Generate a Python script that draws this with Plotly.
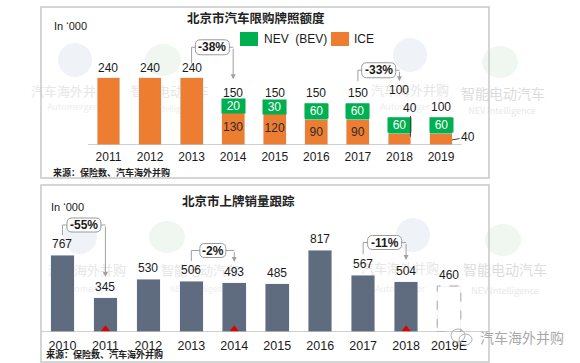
import plotly.graph_objects as go

W, H = 580, 363

# ---------------- data ----------------
quota_years = ["2011", "2012", "2013", "2014", "2015", "2016", "2017", "2018", "2019"]
quota_ice = [240, 240, 240, 130, 120, 90, 90, 40, 40]
quota_nev = [0, 0, 0, 20, 30, 60, 60, 60, 60]
quota_total = [240, 240, 240, 150, 150, 150, 150, 100, 100]

reg_years = ["2010", "2011", "2012", "2013", "2014", "2015", "2016", "2017", "2018", "2019E"]
reg_sales = [767, 345, 530, 506, 493, 485, 817, 567, 504, 460]
reg_estimate = [False, False, False, False, False, False, False, False, False, True]
policy_years = ["2011", "2014", "2018"]

quota_changes = [("2013", "2014", "-38%"), ("2017", "2018", "-33%")]
reg_changes = [("2010", "2011", "-55%"), ("2013", "2014", "-2%"), ("2017", "2018", "-11%")]

top_title = "北京市汽车限购牌照额度"
bottom_title = "北京市上牌销量跟踪"
source_text = "来源：保险数、汽车海外并购"
unit_text = "In \u2018000"
nev_name = "NEV\u00a0\u00a0(BEV)"
ice_name = "ICE"

# ---------------- styles ----------------
ORANGE = "#ED7D31"
GREEN = "#00B050"
SLATE = "#5F6B7E"
GRAYLINE = "#BFBFBF"
BRACKET = "#A0A0A0"
FONT = "Liberation Sans, Arial, sans-serif"
CJK = "Noto Sans CJK SC, sans-serif"
TXT = "#1a1a1a"

def PX(x):
    return x / W

def PY(y):
    return 1 - y / H

# callout geometry (box level, left end, right arrow tip) in data units
quota_callout_geo = {"-38%": (349, 291, 235), "-33%": (267, 228, 228)}
reg_callout_geo = {"-55%": (1070, 970, 550), "-2%": (815, 710, 700), "-11%": (895, 780, 720)}
total_label_shift = {"2018": 17}

qx = list(range(len(quota_years)))
rx = list(range(len(reg_years)))

fig = go.Figure()

# ---------- watermark layer (first subplot, drawn beneath the others) ----------
WM1, WM2 = "#e6e6e6", "#eeeeee"
wm = [
    ("汽车海外并购", 70, 93, 13, WM1), ("Automerger", 72, 108, 9, WM2),
    ("智能电动汽车", 170, 93, 13, WM1), ("NEV Intelligence", 168, 110, 8, WM2),
    ("汽车海外并购", 410, 92, 13, WM1), ("Automerger", 405, 108, 9, WM2),
    ("智能电动汽车", 503, 95, 14, "#dcdcdc"), ("NEV Intelligence", 502, 112, 9, "#e8e8e8"),
    ("汽车海外并购", 87, 272, 13, WM1), ("Automerger", 85, 290, 9, WM2),
    ("智能电动汽车", 200, 272, 13, WM1), ("NEV Intelligence", 200, 290, 8, WM2),
    ("汽车海外并购", 400, 270, 13, WM1), ("Automerger", 400, 290, 9, WM2),
    ("智能电动汽车", 505, 271, 14, "#dcdcdc"), ("NEV Intelligence", 505, 292, 9, "#e8e8e8"),
]
for t, x, y, s, c in wm:
    fig.add_trace(go.Scatter(x=[x], y=[y], mode="text", text=[t],
                             textfont=dict(size=s, color=c, family=CJK),
                             hoverinfo="skip", showlegend=False, xaxis="x", yaxis="y"))

# ---------- top chart: quota ----------
ice_text = [str(v) if (n > 0 and v >= 60) else "" for v, n in zip(quota_ice, quota_nev)]
fig.add_trace(go.Bar(x=qx, y=quota_ice, name=ice_name, marker_color=ORANGE,
                     text=ice_text, textposition="inside", insidetextanchor="middle",
                     textangle=0, constraintext="none",
                     textfont=dict(size=12, color="#2b2b2b", family=FONT),
                     xaxis="x2", yaxis="y2", showlegend=False))
fig.add_trace(go.Bar(x=qx, y=quota_nev, name=nev_name, marker_color=GREEN,
                     xaxis="x2", yaxis="y2", showlegend=False))

# ---------- bottom chart: registrations ----------
reg_colors = ["rgba(0,0,0,0)" if e else SLATE for e in reg_estimate]
fig.add_trace(go.Bar(x=rx, y=reg_sales, marker_color=reg_colors,
                     xaxis="x3", yaxis="y3", showlegend=False))
fig.add_trace(go.Scatter(x=[reg_years.index(y) for y in policy_years],
                         y=[22] * len(policy_years), mode="markers",
                         marker=dict(symbol="triangle-up", size=9, color="#E00000"),
                         cliponaxis=False, xaxis="x3", yaxis="y3", showlegend=False,
                         hoverinfo="skip"))

shapes = []
annotations = []

# panel frames
for (x0, y0, x1, y1) in [(41, 7, 489, 178), (41, 185, 489, 362)]:
    shapes.append(dict(type="rect", xref="paper", yref="paper",
                       x0=PX(x0), x1=PX(x1), y0=PY(y1), y1=PY(y0),
                       line=dict(color="#C8C8C8", width=1.5)))

# baselines
shapes.append(dict(type="line", xref="x2", yref="y2", x0=-0.5, x1=len(qx) - 0.5, y0=0, y1=0,
                   line=dict(color=GRAYLINE, width=1.5)))
shapes.append(dict(type="line", xref="paper", yref="y3", x0=PX(41), x1=PX(489), y0=0, y1=0,
                   line=dict(color=GRAYLINE, width=1.5)))

# watermark logos (below)
for cx, cy in [(75, 60), (410, 55), (80, 237), (413, 235)]:
    shapes.append(dict(type="circle", xref="paper", yref="paper", layer="below",
                       x0=PX(cx - 17), x1=PX(cx + 17), y0=PY(cy + 17), y1=PY(cy - 17),
                       fillcolor="#EFF3F8", line=dict(width=0)))
for cx, cy in [(163, 60), (500, 62), (167, 237), (503, 240)]:
    shapes.append(dict(type="circle", xref="paper", yref="paper", layer="below",
                       x0=PX(cx - 18), x1=PX(cx + 18), y0=PY(cy + 16), y1=PY(cy - 16),
                       fillcolor="#F0F6F0", line=dict(width=0)))

# estimate bars: dashed outline
for i, (v, e) in enumerate(zip(reg_sales, reg_estimate)):
    if e:
        shapes.append(dict(type="rect", xref="x3", yref="y3", x0=i - 0.275, x1=i + 0.275,
                           y0=0, y1=v, line=dict(color="#A6A6A6", width=1, dash="dash")))

# totals above top bars
for i, (y, t) in enumerate(zip(quota_years, quota_total)):
    annotations.append(dict(x=i, y=t, xref="x2", yref="y2", text=str(t), showarrow=False,
                            yanchor="bottom", yshift=1 + total_label_shift.get(y, 0),
                            font=dict(size=12, color=TXT, family=FONT)))

# NEV labels as green blocks
for i, (ice, nev) in enumerate(zip(quota_ice, quota_nev)):
    if nev > 0:
        annotations.append(dict(x=i, y=ice + nev / 2, xref="x2", yref="y2", text=str(nev),
                                showarrow=False, bgcolor=GREEN, width=21, height=12,
                                borderpad=1, font=dict(size=12, color="white", family=FONT)))
    if nev > 0 and ice < 60:
        # small ICE values labelled outside with a leader line
        if i == len(quota_ice) - 2:
            annotations.append(dict(x=i, y=ice * 0.75, xref="x2", yref="y2", text=str(ice),
                                    showarrow=True, arrowhead=0, arrowwidth=1, arrowcolor="#404040",
                                    ax=0, ay=-29, xshift=11, standoff=0,
                                    font=dict(size=12, color=TXT, family=FONT)))
        else:
            annotations.append(dict(x=i, y=ice * 0.45, xref="x2", yref="y2", text=str(ice),
                                    showarrow=True, arrowhead=0, arrowwidth=1, arrowcolor="#404040",
                                    ax=16, ay=-3, xshift=11, standoff=0,
                                    font=dict(size=12, color=TXT, family=FONT)))

# values above bottom bars
for i, v in enumerate(reg_sales):
    annotations.append(dict(x=i, y=v, xref="x3", yref="y3", text=str(v), showarrow=False,
                            yanchor="bottom", yshift=2,
                            font=dict(size=12, color=TXT, family=FONT)))


def add_callouts(changes, years, geo, xr, yr, h):
    for a, b, lab in changes:
        fi, ti = years.index(a), years.index(b)
        by, le, re_ = geo[lab]
        shapes.append(dict(type="path", xref=xr, yref=yr,
                           path=f"M {fi},{le} L {fi},{by} L {ti},{by}",
                           line=dict(color=BRACKET, width=1)))
        annotations.append(dict(x=ti, y=re_, ax=ti, ay=by, xref=xr, yref=yr,
                                axref=xr, ayref=yr, text="", showarrow=True,
                                arrowhead=2, arrowsize=1, arrowwidth=1, arrowcolor=BRACKET))
        w = 8 * len(lab) + 2
        r = 5
        hw, hh = w / 2, h / 2
        path = (f"M {-hw + r},{-hh} L {hw - r},{-hh} Q {hw},{-hh} {hw},{-hh + r} "
                f"L {hw},{hh - r} Q {hw},{hh} {hw - r},{hh} L {-hw + r},{hh} "
                f"Q {-hw},{hh} {-hw},{hh - r} L {-hw},{-hh + r} Q {-hw},{-hh} {-hw + r},{-hh} Z")
        shapes.append(dict(type="path", xref=xr, yref=yr, xsizemode="pixel", ysizemode="pixel",
                           xanchor=(fi + ti) / 2, yanchor=by, path=path,
                           fillcolor="white", line=dict(color="#9A9A9A", width=1)))
        annotations.append(dict(x=(fi + ti) / 2, y=by, xref=xr, yref=yr, text=f"<b>{lab}</b>",
                                showarrow=False, font=dict(size=12, color=TXT, family=FONT)))


add_callouts(quota_changes, quota_years, quota_callout_geo, "x2", "y2", 15)
add_callouts(reg_changes, reg_years, reg_callout_geo, "x3", "y3", 14)


def paper_text(x, y, text, size, color, family, xanchor="center"):
    return dict(x=PX(x), y=PY(y), xref="paper", yref="paper", text=text,
                xanchor=xanchor, yanchor="middle", showarrow=False,
                font=dict(size=size, color=color, family=family))


# titles, units, sources
annotations += [
    paper_text(256, 17, f"<b>{top_title}</b>", 12.5, "#222", CJK),
    paper_text(238, 200, f"<b>{bottom_title}</b>", 12.5, "#222", CJK),
    paper_text(52, 26, unit_text, 11, TXT, FONT, "left"),
    paper_text(49, 207, unit_text, 11, TXT, FONT, "left"),
    paper_text(51, 172, f"<b>{source_text}</b>", 9, "#222", CJK, "left"),
    paper_text(44, 354, f"<b>{source_text}</b>", 9, "#222", CJK, "left"),
]

# custom legend
for (bx, col, name, tx) in [(240, GREEN, nev_name, 262), (331, ORANGE, ice_name, 352)]:
    shapes.append(dict(type="rect", xref="paper", yref="paper", x0=PX(bx), x1=PX(bx + 18),
                       y0=PY(46), y1=PY(32), fillcolor=col, line=dict(width=0)))
    annotations.append(paper_text(tx, 39, name, 12, TXT, FONT, "left"))

# wechat watermark
shapes.append(dict(type="circle", xref="paper", yref="paper", x0=PX(451), x1=PX(465),
                   y0=PY(342), y1=PY(329), line=dict(color="#B0B0B0", width=1)))
shapes.append(dict(type="circle", xref="paper", yref="paper", x0=PX(459), x1=PX(472),
                   y0=PY(345), y1=PY(334), line=dict(color="#B0B0B0", width=1)))
annotations.append(paper_text(478, 337, "汽车海外并购", 14, "#A8A8A8", CJK, "left"))

fig.update_layout(
    width=W, height=H, margin=dict(l=0, r=0, t=0, b=0),
    paper_bgcolor="white", plot_bgcolor="rgba(0,0,0,0)",
    barmode="stack", bargap=0.45, showlegend=False,
    shapes=shapes, annotations=annotations,
    xaxis=dict(domain=[0, 1], range=[0, W], visible=False, fixedrange=True),
    yaxis=dict(domain=[0, 1], range=[H, 0], visible=False, fixedrange=True),
    xaxis2=dict(domain=[PX(87.7), PX(461.8)], range=[-0.5, len(qx) - 0.5],
                tickvals=qx, ticktext=quota_years, showgrid=False, zeroline=False,
                showline=False, ticks="", anchor="y2", ticklabelstandoff=3,
                tickfont=dict(size=12, color=TXT, family=FONT)),
    yaxis2=dict(domain=[PY(145), PY(7)], range=[0, 138 / 0.28], visible=False, anchor="x2"),
    xaxis3=dict(domain=[PX(41.0), PX(470.5)], range=[-0.5, len(rx) - 0.5],
                tickvals=rx, ticktext=reg_years, showgrid=False, zeroline=False,
                showline=False, ticks="", anchor="y3", ticklabelstandoff=4,
                tickfont=dict(size=12.5, color=TXT, family=FONT)),
    yaxis3=dict(domain=[PY(332), PY(185)], range=[0, 1470], visible=False, anchor="x3"),
)

fig.write_html("out.html", config={"displayModeBar": False},
               post_script="document.body.style.margin='0';")
